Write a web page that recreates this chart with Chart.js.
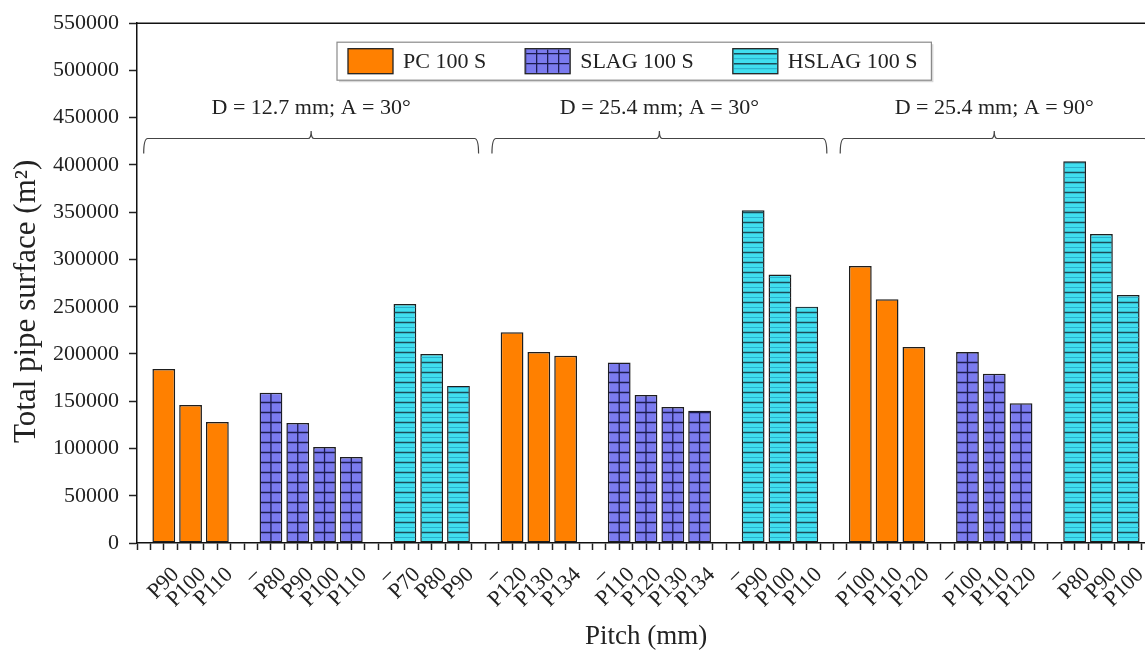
<!DOCTYPE html>
<html>
<head>
<meta charset="utf-8">
<script src="https://cdn.jsdelivr.net/npm/chart.js@4.4.1/dist/chart.umd.min.js"></script>
<style>
  html, body { margin: 0; padding: 0; background: #fff; overflow: hidden; }
  #wrap { width: 1160px; height: 650px; }
</style>
</head>
<body>
<div id="wrap"><canvas id="pipes" width="1160" height="650"></canvas></div>
<script>
// series + group captions
const seriesNames = ['PC 100 S', 'SLAG 100 S', 'HSLAG 100 S'];
const groupTitles = ['D = 12.7 mm; A = 30°', 'D = 25.4 mm; A = 30°', 'D = 25.4 mm; A = 90°'];
const xTitle = 'Pitch (mm)';
const yTitle = 'Total pipe surface (m²)';

// pitch labels and total pipe surface (m2), one row per group
const pcPitch     = [['P90', 'P100', 'P110'], ['P120', 'P130', 'P134'], ['P100', 'P110', 'P120']];
const pcValues    = [[184000, 146000, 128000], [223000, 202000, 198000], [293000, 258000, 207500]];
const slagPitch   = [['P80', 'P90', 'P100', 'P110'], ['P110', 'P120', 'P130', 'P134'], ['P100', 'P110', 'P120']];
const slagValues  = [[159000, 127000, 101500, 91000], [191000, 156500, 144000, 140000], [202000, 179000, 148000]];
const hslagPitch  = [['P70', 'P80', 'P90'], ['P90', 'P100', 'P110'], ['P80', 'P90', 'P100']];
const hslagValues = [[253000, 200000, 166000], [352000, 284000, 250000], [404000, 327000, 262500]];

// y axis range
const yMin = 0, yMax = 550000, yStep = 50000;

const FONT = 'Liberation Serif';
const TXT = '#222';
const fills = ['#ff8000', '#7b7bef', '#40dff0'];

// lay out the slots along x: one empty slot between series
const pitchSets = [pcPitch, slagPitch, hslagPitch];
const valueSets = [pcValues, slagValues, hslagValues];
const slots = [{ label: '' }];
const groupSpans = [];
for (let g = 0; g < groupTitles.length; g++) {
  const first = slots.length;
  for (let s = 0; s < 3; s++) {
    pitchSets[s][g].forEach((p, i) => slots.push({ label: p, series: s, value: valueSets[s][g][i] }));
    slots.push({ label: '–' });
  }
  groupSpans.push([first, slots.length - 2]);
}
slots[slots.length - 1].label = '';

const datasets = seriesNames.map((name, s) => ({
  label: name,
  data: slots.map((d, i) => d.series === s ? { x: i, y: d.value } : null).filter(Boolean),
  backgroundColor: fills[s],
  borderColor: '#1e1e1e',
  borderWidth: 1.5,
  borderSkipped: false,
  grouped: false,
  categoryPercentage: 1,
  barPercentage: 1.7   // half-step ticks make the sample size half a slot
}));

// grid / stripe patterns like origin
function drawHatch(ctx, s, left, top, w, h) {
  if (s === 0) return;
  const bottom = top + h, right = left + w, cx = left + w / 2;
  ctx.save();
  ctx.beginPath();
  ctx.rect(left + 1, top + 1, w - 2, h - 2);
  ctx.clip();
  if (s === 1) {
    ctx.strokeStyle = '#1c1c50';
    ctx.lineWidth = 1.3;
    ctx.beginPath();
    for (let xx = cx; xx < right; xx += 11) { ctx.moveTo(xx, top); ctx.lineTo(xx, bottom); }
    for (let xx = cx - 11; xx > left; xx -= 11) { ctx.moveTo(xx, top); ctx.lineTo(xx, bottom); }
    for (let yy = bottom - 10; yy > top; yy -= 10) { ctx.moveTo(left, yy); ctx.lineTo(right, yy); }
    ctx.stroke();
  } else {
    for (let k = 1; bottom - k * 5 > top; k++) {
      const yy = bottom - k * 5;
      ctx.beginPath();
      ctx.strokeStyle = k % 2 === 0 ? '#1b4d5a' : '#2aa8c6';
      ctx.lineWidth = k % 2 === 0 ? 1.4 : 0.9;
      ctx.moveTo(left, yy); ctx.lineTo(right, yy);
      ctx.stroke();
    }
  }
  ctx.restore();
}

const hatch = {
  id: 'hatch',
  afterDatasetDraw(chart, args) {
    const ctx = chart.ctx;
    args.meta.data.forEach(bar => {
      const { x, y, base, width } = bar.getProps(['x', 'y', 'base', 'width'], true);
      drawHatch(ctx, args.index, x - width / 2, y, width, base - y);
    });
  }
};

const extras = {
  id: 'extras',
  afterDraw(chart) {
    const { ctx, chartArea, scales: { x, y } } = chart;
    ctx.save();
    // top frame line
    ctx.strokeStyle = '#111';
    ctx.lineWidth = 1.5;
    ctx.beginPath();
    ctx.moveTo(chartArea.left, chartArea.top);
    ctx.lineTo(chartArea.right, chartArea.top);
    ctx.stroke();

    // y title, a bit larger and lower than chart.js would put it
    ctx.save();
    ctx.translate(35, chartArea.top + chartArea.height * 0.535);
    ctx.rotate(-Math.PI / 2);
    ctx.fillStyle = TXT;
    ctx.font = '31px "' + FONT + '"';
    ctx.textAlign = 'center';
    ctx.textBaseline = 'alphabetic';
    ctx.fillText(yTitle, 0, 0);
    ctx.restore();

    // braces + captions
    const yl = y.getPixelForValue(428000), yh = y.getPixelForValue(412000);
    const yn = y.getPixelForValue(436000), yt = y.getPixelForValue(460000);
    ctx.strokeStyle = '#444';
    ctx.lineWidth = 1.2;
    ctx.fillStyle = TXT;
    ctx.font = '22px "' + FONT + '"';
    ctx.textAlign = 'center';
    ctx.textBaseline = 'middle';
    groupSpans.forEach(([a, b], g) => {
      const x0 = x.getPixelForValue(a - 0.75), x1 = x.getPixelForValue(b + 0.75), xc = (x0 + x1) / 2;
      ctx.beginPath();
      ctx.moveTo(x0, yh);
      ctx.quadraticCurveTo(x0, yl, x0 + 4, yl);
      ctx.lineTo(xc - 3, yl);
      ctx.quadraticCurveTo(xc, yl, xc, yn);
      ctx.quadraticCurveTo(xc, yl, xc + 3, yl);
      ctx.lineTo(x1 - 4, yl);
      ctx.quadraticCurveTo(x1, yl, x1, yh);
      ctx.stroke();
      ctx.fillText(groupTitles[g], xc, yt);
    });

    // legend box
    const left = chartArea.left + 200, top = chartArea.top + 19, h = 38;
    const sw = 45, sh = 25, gap = 10, spacing = 39;
    let w = 11;
    seriesNames.forEach((n, i) => { w += sw + gap + ctx.measureText(n).width + (i < 2 ? spacing : 14); });
    ctx.fillStyle = '#d8d8d8';
    ctx.fillRect(left + 2, top + 2, w, h);
    ctx.fillStyle = '#fff';
    ctx.fillRect(left, top, w, h);
    ctx.strokeStyle = '#8a8a8a';
    ctx.lineWidth = 1.2;
    ctx.strokeRect(left, top, w, h);
    let xx = left + 11;
    ctx.textAlign = 'left';
    seriesNames.forEach((n, i) => {
      const sy = top + (h - sh) / 2;
      ctx.fillStyle = fills[i];
      ctx.fillRect(xx, sy, sw, sh);
      drawHatch(ctx, i, xx, sy, sw, sh);
      ctx.strokeStyle = '#222';
      ctx.lineWidth = 1.3;
      ctx.strokeRect(xx, sy, sw, sh);
      ctx.fillStyle = TXT;
      ctx.fillText(n, xx + sw + gap, top + h / 2 + 1);
      xx += sw + gap + ctx.measureText(n).width + spacing;
    });
    ctx.restore();
  }
};

const pipes = new Chart(document.getElementById('pipes'), {
  type: 'bar',
  data: { datasets: datasets },
  options: {
    responsive: false,
    animation: false,
    layout: { padding: { top: 23, right: 5, bottom: 0, left: 0 } },
    plugins: {
      legend: { display: false },
      tooltip: { enabled: false }
    },
    scales: {
      x: {
        type: 'linear',
        offset: false,
        min: 0,
        max: slots.length - 1,
        ticks: {
          stepSize: 0.5,
          maxTicksLimit: 1000,
          autoSkip: false,
          minRotation: 45,
          maxRotation: 45,
          labelOffset: 12,
          padding: 12,
          color: TXT,
          font: { family: FONT, size: 22 },
          callback: v => Number.isInteger(v) ? slots[v].label : ''
        },
        grid: { offset: false, drawOnChartArea: false, tickLength: 7, tickColor: '#222', tickWidth: 1.5 },
        border: { color: '#111', width: 1.5 },
        title: {
          display: true,
          text: xTitle,
          color: TXT,
          font: { family: FONT, size: 27, lineHeight: 1 },
          padding: 0
        },
        afterFit: s => { s.height = 107; s.paddingLeft = 0; s.paddingRight = 0; }
      },
      y: {
        min: yMin,
        max: yMax,
        ticks: {
          stepSize: yStep / 2,
          maxTicksLimit: 1000,
          padding: 10,
          color: TXT,
          font: { family: FONT, size: 22 },
          callback: v => v % yStep === 0 ? v : ''
        },
        grid: { drawOnChartArea: false, tickLength: 8, tickColor: '#222', tickWidth: 1.5 },
        border: { color: '#111', width: 1.5 },
        afterFit: s => { s.width = 137; }
      }
    }
  },
  plugins: [hatch, extras]
});
</script>
</body>
</html>
